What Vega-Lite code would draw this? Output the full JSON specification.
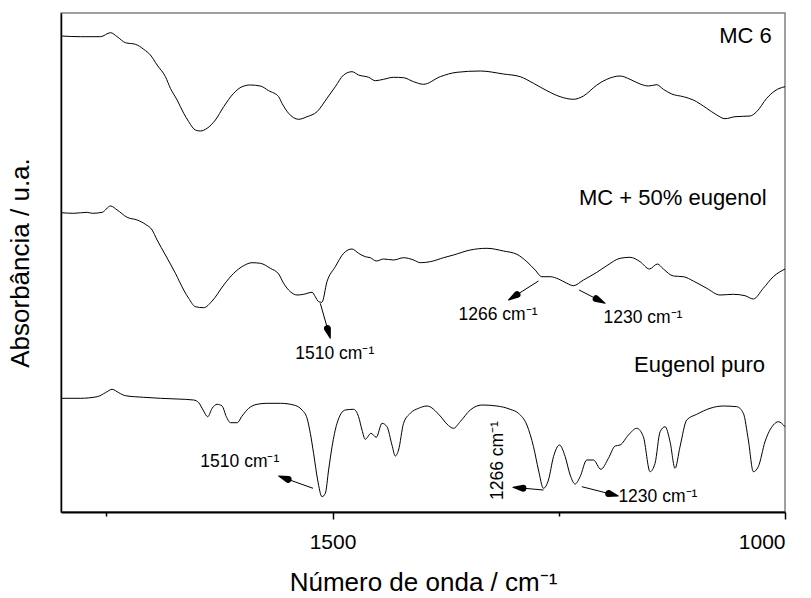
{
  "$schema": "https://vega.github.io/schema/vega-lite/v6.json",
  "width": 724,
  "height": 499,
  "autosize": {"type": "none"},
  "padding": {"left": 61, "top": 13, "right": 26, "bottom": 86},
  "background": "white",
  "config": {
    "font": "Liberation Sans",
    "view": {"stroke": "#808080", "strokeWidth": 1.5}
  },
  "datasets": {
    "spectra": [
      {"s": "MC 6", "wn": 1800, "a": 476}, {"s": "MC 6", "wn": 1778.5, "a": 475.3}, {"s": "MC 6", "wn": 1756.4, "a": 475.3},
      {"s": "MC 6", "wn": 1745.3, "a": 479.3}, {"s": "MC 6", "wn": 1737.9, "a": 475.3}, {"s": "MC 6", "wn": 1728.8, "a": 469.3},
      {"s": "MC 6", "wn": 1717.7, "a": 467.7}, {"s": "MC 6", "wn": 1708.6, "a": 462.7}, {"s": "MC 6", "wn": 1701.2, "a": 457},
      {"s": "MC 6", "wn": 1693.8, "a": 447}, {"s": "MC 6", "wn": 1684.6, "a": 435.3}, {"s": "MC 6", "wn": 1679.1, "a": 423.7},
      {"s": "MC 6", "wn": 1671.7, "a": 412}, {"s": "MC 6", "wn": 1664.4, "a": 398.7}, {"s": "MC 6", "wn": 1658.9, "a": 390.3},
      {"s": "MC 6", "wn": 1651.5, "a": 382}, {"s": "MC 6", "wn": 1646.0, "a": 381}, {"s": "MC 6", "wn": 1638.6, "a": 383.7},
      {"s": "MC 6", "wn": 1629.4, "a": 392}, {"s": "MC 6", "wn": 1620.2, "a": 405.3}, {"s": "MC 6", "wn": 1609.2, "a": 418.7},
      {"s": "MC 6", "wn": 1599.9, "a": 425.3}, {"s": "MC 6", "wn": 1590.8, "a": 427}, {"s": "MC 6", "wn": 1579.7, "a": 426},
      {"s": "MC 6", "wn": 1570.5, "a": 421.3}, {"s": "MC 6", "wn": 1559.5, "a": 415.3}, {"s": "MC 6", "wn": 1555.8, "a": 408.7},
      {"s": "MC 6", "wn": 1548.5, "a": 398.7}, {"s": "MC 6", "wn": 1537.4, "a": 392.7}, {"s": "MC 6", "wn": 1528.1, "a": 395.3},
      {"s": "MC 6", "wn": 1517.1, "a": 400.3}, {"s": "MC 6", "wn": 1506.1, "a": 413.7}, {"s": "MC 6", "wn": 1496.9, "a": 425.3},
      {"s": "MC 6", "wn": 1487.7, "a": 437}, {"s": "MC 6", "wn": 1478.5, "a": 440.3}, {"s": "MC 6", "wn": 1471.2, "a": 437},
      {"s": "MC 6", "wn": 1460.1, "a": 434.7}, {"s": "MC 6", "wn": 1452.7, "a": 431.3}, {"s": "MC 6", "wn": 1443.6, "a": 432.7},
      {"s": "MC 6", "wn": 1432.5, "a": 434.7}, {"s": "MC 6", "wn": 1421.5, "a": 434.3}, {"s": "MC 6", "wn": 1410.4, "a": 430.3},
      {"s": "MC 6", "wn": 1399.4, "a": 427.7}, {"s": "MC 6", "wn": 1381.0, "a": 435.3}, {"s": "MC 6", "wn": 1362.5, "a": 439.7},
      {"s": "MC 6", "wn": 1336.8, "a": 441}, {"s": "MC 6", "wn": 1311.1, "a": 438}, {"s": "MC 6", "wn": 1292.6, "a": 435.3},
      {"s": "MC 6", "wn": 1277.9, "a": 428.7}, {"s": "MC 6", "wn": 1263.1, "a": 421.3}, {"s": "MC 6", "wn": 1248.4, "a": 415.3},
      {"s": "MC 6", "wn": 1233.8, "a": 412.7}, {"s": "MC 6", "wn": 1222.7, "a": 416}, {"s": "MC 6", "wn": 1207.9, "a": 427},
      {"s": "MC 6", "wn": 1196.9, "a": 432.7}, {"s": "MC 6", "wn": 1182.2, "a": 436}, {"s": "MC 6", "wn": 1171.2, "a": 432.7},
      {"s": "MC 6", "wn": 1160.1, "a": 428}, {"s": "MC 6", "wn": 1151.0, "a": 426}, {"s": "MC 6", "wn": 1141.7, "a": 427.3},
      {"s": "MC 6", "wn": 1134.4, "a": 422.7}, {"s": "MC 6", "wn": 1125.1, "a": 418}, {"s": "MC 6", "wn": 1112.3, "a": 415.3},
      {"s": "MC 6", "wn": 1101.3, "a": 412}, {"s": "MC 6", "wn": 1086.5, "a": 403.7}, {"s": "MC 6", "wn": 1075.4, "a": 397},
      {"s": "MC 6", "wn": 1066.3, "a": 393.3}, {"s": "MC 6", "wn": 1055.2, "a": 395.3}, {"s": "MC 6", "wn": 1038.6, "a": 396},
      {"s": "MC 6", "wn": 1031.3, "a": 400.3}, {"s": "MC 6", "wn": 1020.2, "a": 413.7}, {"s": "MC 6", "wn": 1011.0, "a": 421.3},
      {"s": "MC 6", "wn": 1000, "a": 425.3},

      {"s": "MC + 50% eugenol", "wn": 1800, "a": 299.3}, {"s": "MC + 50% eugenol", "wn": 1785.9, "a": 298.7}, {"s": "MC + 50% eugenol", "wn": 1771.1, "a": 299.7},
      {"s": "MC + 50% eugenol", "wn": 1765.5, "a": 298.7}, {"s": "MC + 50% eugenol", "wn": 1754.5, "a": 299.7}, {"s": "MC + 50% eugenol", "wn": 1745.3, "a": 306},
      {"s": "MC + 50% eugenol", "wn": 1737.9, "a": 302}, {"s": "MC + 50% eugenol", "wn": 1726.9, "a": 294.7}, {"s": "MC + 50% eugenol", "wn": 1715.9, "a": 292},
      {"s": "MC + 50% eugenol", "wn": 1706.7, "a": 287.7}, {"s": "MC + 50% eugenol", "wn": 1699.3, "a": 282}, {"s": "MC + 50% eugenol", "wn": 1693.8, "a": 272},
      {"s": "MC + 50% eugenol", "wn": 1684.6, "a": 257}, {"s": "MC + 50% eugenol", "wn": 1673.6, "a": 238.7}, {"s": "MC + 50% eugenol", "wn": 1664.4, "a": 222},
      {"s": "MC + 50% eugenol", "wn": 1658.9, "a": 213.7}, {"s": "MC + 50% eugenol", "wn": 1651.5, "a": 205.3}, {"s": "MC + 50% eugenol", "wn": 1642.3, "a": 204.3},
      {"s": "MC + 50% eugenol", "wn": 1633.0, "a": 211}, {"s": "MC + 50% eugenol", "wn": 1620.2, "a": 227}, {"s": "MC + 50% eugenol", "wn": 1609.2, "a": 238.7},
      {"s": "MC + 50% eugenol", "wn": 1598.2, "a": 246.3}, {"s": "MC + 50% eugenol", "wn": 1588.9, "a": 249.3}, {"s": "MC + 50% eugenol", "wn": 1579.7, "a": 248.7},
      {"s": "MC + 50% eugenol", "wn": 1568.7, "a": 243.7}, {"s": "MC + 50% eugenol", "wn": 1559.5, "a": 238}, {"s": "MC + 50% eugenol", "wn": 1554.0, "a": 228.7},
      {"s": "MC + 50% eugenol", "wn": 1546.6, "a": 220.3}, {"s": "MC + 50% eugenol", "wn": 1539.2, "a": 217}, {"s": "MC + 50% eugenol", "wn": 1531.9, "a": 217.7},
      {"s": "MC + 50% eugenol", "wn": 1522.6, "a": 219.7}, {"s": "MC + 50% eugenol", "wn": 1519.0, "a": 215.3}, {"s": "MC + 50% eugenol", "wn": 1515.3, "a": 210.3},
      {"s": "MC + 50% eugenol", "wn": 1511.8, "a": 209.7}, {"s": "MC + 50% eugenol", "wn": 1506.1, "a": 230.3}, {"s": "MC + 50% eugenol", "wn": 1496.9, "a": 245.3},
      {"s": "MC + 50% eugenol", "wn": 1487.7, "a": 258.7}, {"s": "MC + 50% eugenol", "wn": 1478.5, "a": 263}, {"s": "MC + 50% eugenol", "wn": 1471.2, "a": 258.7},
      {"s": "MC + 50% eugenol", "wn": 1463.8, "a": 255.3}, {"s": "MC + 50% eugenol", "wn": 1458.3, "a": 254.3}, {"s": "MC + 50% eugenol", "wn": 1451.6, "a": 251},
      {"s": "MC + 50% eugenol", "wn": 1443.6, "a": 253}, {"s": "MC + 50% eugenol", "wn": 1432.5, "a": 252}, {"s": "MC + 50% eugenol", "wn": 1421.5, "a": 254.3},
      {"s": "MC + 50% eugenol", "wn": 1410.4, "a": 252}, {"s": "MC + 50% eugenol", "wn": 1403.0, "a": 249.3}, {"s": "MC + 50% eugenol", "wn": 1392.0, "a": 250.3},
      {"s": "MC + 50% eugenol", "wn": 1377.3, "a": 254.3}, {"s": "MC + 50% eugenol", "wn": 1366.3, "a": 257}, {"s": "MC + 50% eugenol", "wn": 1347.8, "a": 262},
      {"s": "MC + 50% eugenol", "wn": 1329.4, "a": 263.7}, {"s": "MC + 50% eugenol", "wn": 1311.1, "a": 261}, {"s": "MC + 50% eugenol", "wn": 1296.3, "a": 257.7},
      {"s": "MC + 50% eugenol", "wn": 1285.2, "a": 250.3}, {"s": "MC + 50% eugenol", "wn": 1276.1, "a": 242}, {"s": "MC + 50% eugenol", "wn": 1268.7, "a": 235.3},
      {"s": "MC + 50% eugenol", "wn": 1259.5, "a": 235.3}, {"s": "MC + 50% eugenol", "wn": 1250.3, "a": 233}, {"s": "MC + 50% eugenol", "wn": 1241.0, "a": 228.7},
      {"s": "MC + 50% eugenol", "wn": 1233.8, "a": 226.3}, {"s": "MC + 50% eugenol", "wn": 1222.7, "a": 232}, {"s": "MC + 50% eugenol", "wn": 1207.9, "a": 239.7},
      {"s": "MC + 50% eugenol", "wn": 1196.9, "a": 246.3}, {"s": "MC + 50% eugenol", "wn": 1182.2, "a": 253.7}, {"s": "MC + 50% eugenol", "wn": 1171.2, "a": 254.7},
      {"s": "MC + 50% eugenol", "wn": 1160.1, "a": 250.3}, {"s": "MC + 50% eugenol", "wn": 1149.8, "a": 243}, {"s": "MC + 50% eugenol", "wn": 1141.0, "a": 248},
      {"s": "MC + 50% eugenol", "wn": 1134.4, "a": 243}, {"s": "MC + 50% eugenol", "wn": 1123.3, "a": 236}, {"s": "MC + 50% eugenol", "wn": 1112.3, "a": 235.3},
      {"s": "MC + 50% eugenol", "wn": 1101.3, "a": 231}, {"s": "MC + 50% eugenol", "wn": 1086.5, "a": 223.7}, {"s": "MC + 50% eugenol", "wn": 1071.8, "a": 217},
      {"s": "MC + 50% eugenol", "wn": 1057.1, "a": 217.7}, {"s": "MC + 50% eugenol", "wn": 1044.2, "a": 216.3}, {"s": "MC + 50% eugenol", "wn": 1035.0, "a": 213},
      {"s": "MC + 50% eugenol", "wn": 1024.0, "a": 223.7}, {"s": "MC + 50% eugenol", "wn": 1012.9, "a": 235.3}, {"s": "MC + 50% eugenol", "wn": 1000, "a": 243},

      {"s": "Eugenol puro", "wn": 1800, "a": 113.7}, {"s": "Eugenol puro", "wn": 1778.5, "a": 113.7}, {"s": "Eugenol puro", "wn": 1760.0, "a": 115.3},
      {"s": "Eugenol puro", "wn": 1750.9, "a": 119.3}, {"s": "Eugenol puro", "wn": 1743.5, "a": 122.7}, {"s": "Eugenol puro", "wn": 1736.2, "a": 119.3},
      {"s": "Eugenol puro", "wn": 1728.8, "a": 116.3}, {"s": "Eugenol puro", "wn": 1708.6, "a": 114.7}, {"s": "Eugenol puro", "wn": 1690.1, "a": 113.7},
      {"s": "Eugenol puro", "wn": 1671.7, "a": 113}, {"s": "Eugenol puro", "wn": 1653.4, "a": 112}, {"s": "Eugenol puro", "wn": 1647.8, "a": 109.3},
      {"s": "Eugenol puro", "wn": 1643.0, "a": 102}, {"s": "Eugenol puro", "wn": 1637.9, "a": 95.3}, {"s": "Eugenol puro", "wn": 1633.0, "a": 103.7},
      {"s": "Eugenol puro", "wn": 1627.5, "a": 107.7}, {"s": "Eugenol puro", "wn": 1622.0, "a": 106}, {"s": "Eugenol puro", "wn": 1617.3, "a": 95.3},
      {"s": "Eugenol puro", "wn": 1612.8, "a": 89.3}, {"s": "Eugenol puro", "wn": 1605.4, "a": 89.3}, {"s": "Eugenol puro", "wn": 1599.9, "a": 96},
      {"s": "Eugenol puro", "wn": 1592.6, "a": 103.7}, {"s": "Eugenol puro", "wn": 1583.4, "a": 107.7}, {"s": "Eugenol puro", "wn": 1572.3, "a": 108.7},
      {"s": "Eugenol puro", "wn": 1557.6, "a": 108.7}, {"s": "Eugenol puro", "wn": 1542.9, "a": 107}, {"s": "Eugenol puro", "wn": 1533.7, "a": 102},
      {"s": "Eugenol puro", "wn": 1528.1, "a": 93.7}, {"s": "Eugenol puro", "wn": 1524.5, "a": 78.7}, {"s": "Eugenol puro", "wn": 1520.9, "a": 58.7},
      {"s": "Eugenol puro", "wn": 1516.4, "a": 32}, {"s": "Eugenol puro", "wn": 1511.6, "a": 15.3}, {"s": "Eugenol puro", "wn": 1507.9, "a": 18.7},
      {"s": "Eugenol puro", "wn": 1504.3, "a": 42}, {"s": "Eugenol puro", "wn": 1500.5, "a": 65.3}, {"s": "Eugenol puro", "wn": 1495.0, "a": 88.7},
      {"s": "Eugenol puro", "wn": 1485.9, "a": 102}, {"s": "Eugenol puro", "wn": 1476.7, "a": 102.7}, {"s": "Eugenol puro", "wn": 1471.2, "a": 95.3},
      {"s": "Eugenol puro", "wn": 1467.4, "a": 82}, {"s": "Eugenol puro", "wn": 1463.8, "a": 72.7}, {"s": "Eugenol puro", "wn": 1457.5, "a": 78.7},
      {"s": "Eugenol puro", "wn": 1451.6, "a": 74.7}, {"s": "Eugenol puro", "wn": 1445.3, "a": 88.7}, {"s": "Eugenol puro", "wn": 1439.8, "a": 85.3},
      {"s": "Eugenol puro", "wn": 1434.3, "a": 67}, {"s": "Eugenol puro", "wn": 1430.6, "a": 56}, {"s": "Eugenol puro", "wn": 1427.0, "a": 62},
      {"s": "Eugenol puro", "wn": 1421.5, "a": 88.7}, {"s": "Eugenol puro", "wn": 1414.1, "a": 98.7}, {"s": "Eugenol puro", "wn": 1404.9, "a": 103.7},
      {"s": "Eugenol puro", "wn": 1395.6, "a": 106}, {"s": "Eugenol puro", "wn": 1381.0, "a": 96}, {"s": "Eugenol puro", "wn": 1373.6, "a": 88},
      {"s": "Eugenol puro", "wn": 1366.3, "a": 83.7}, {"s": "Eugenol puro", "wn": 1358.9, "a": 90.3}, {"s": "Eugenol puro", "wn": 1347.8, "a": 102},
      {"s": "Eugenol puro", "wn": 1334.9, "a": 107}, {"s": "Eugenol puro", "wn": 1318.3, "a": 106}, {"s": "Eugenol puro", "wn": 1303.7, "a": 102.7},
      {"s": "Eugenol puro", "wn": 1294.5, "a": 98.7}, {"s": "Eugenol puro", "wn": 1285.2, "a": 87}, {"s": "Eugenol puro", "wn": 1277.9, "a": 65.3},
      {"s": "Eugenol puro", "wn": 1272.4, "a": 42}, {"s": "Eugenol puro", "wn": 1266.9, "a": 23.7}, {"s": "Eugenol puro", "wn": 1261.4, "a": 32},
      {"s": "Eugenol puro", "wn": 1255.8, "a": 55.3}, {"s": "Eugenol puro", "wn": 1249.2, "a": 67}, {"s": "Eugenol puro", "wn": 1242.9, "a": 55.3},
      {"s": "Eugenol puro", "wn": 1237.4, "a": 37}, {"s": "Eugenol puro", "wn": 1231.9, "a": 28}, {"s": "Eugenol puro", "wn": 1226.4, "a": 35.3},
      {"s": "Eugenol puro", "wn": 1219.0, "a": 52}, {"s": "Eugenol puro", "wn": 1211.7, "a": 52}, {"s": "Eugenol puro", "wn": 1203.5, "a": 42.7},
      {"s": "Eugenol puro", "wn": 1195.1, "a": 53.7}, {"s": "Eugenol puro", "wn": 1187.7, "a": 66}, {"s": "Eugenol puro", "wn": 1182.2, "a": 67},
      {"s": "Eugenol puro", "wn": 1173.0, "a": 77}, {"s": "Eugenol puro", "wn": 1163.8, "a": 83.7}, {"s": "Eugenol puro", "wn": 1156.5, "a": 75.3},
      {"s": "Eugenol puro", "wn": 1149.1, "a": 40.3}, {"s": "Eugenol puro", "wn": 1143.6, "a": 48.7}, {"s": "Eugenol puro", "wn": 1138.0, "a": 80.3},
      {"s": "Eugenol puro", "wn": 1132.5, "a": 85.3}, {"s": "Eugenol puro", "wn": 1127.0, "a": 70.3}, {"s": "Eugenol puro", "wn": 1121.5, "a": 43.7},
      {"s": "Eugenol puro", "wn": 1116.0, "a": 65.3}, {"s": "Eugenol puro", "wn": 1108.6, "a": 92}, {"s": "Eugenol puro", "wn": 1097.5, "a": 97.7},
      {"s": "Eugenol puro", "wn": 1082.8, "a": 103.7}, {"s": "Eugenol puro", "wn": 1068.1, "a": 106}, {"s": "Eugenol puro", "wn": 1053.3, "a": 105.3},
      {"s": "Eugenol puro", "wn": 1046.0, "a": 98.7}, {"s": "Eugenol puro", "wn": 1040.5, "a": 72}, {"s": "Eugenol puro", "wn": 1035.0, "a": 40.3},
      {"s": "Eugenol puro", "wn": 1029.5, "a": 45.3}, {"s": "Eugenol puro", "wn": 1022.1, "a": 70.3}, {"s": "Eugenol puro", "wn": 1012.9, "a": 87},
      {"s": "Eugenol puro", "wn": 1007.4, "a": 90.3}, {"s": "Eugenol puro", "wn": 1000, "a": 85.3}
    ],
    "shafts": [
      {"id": "a1", "wn": 1513.5, "a": 208.7, "wn2": 1505.5, "a2": 183.3},
      {"id": "a2", "wn": 1521.5, "a": 23.7, "wn2": 1549.1, "a2": 32.6},
      {"id": "a3", "wn": 1272.4, "a": 231, "wn2": 1296.2, "a2": 217.35},
      {"id": "a4", "wn": 1227.5, "a": 222, "wn2": 1208.6, "a2": 213.25},
      {"id": "a5", "wn": 1266.9, "a": 22, "wn2": 1289.6, "a2": 23.8},
      {"id": "a6", "wn": 1224.5, "a": 25.3, "wn2": 1194.8, "a2": 18.5}
    ],
    "heads": [
      {"id": "a1", "end": "base", "wn": 1505.5, "a": 183.3}, {"id": "a1", "end": "tip", "wn": 1502.4, "a": 173.7},
      {"id": "a2", "end": "base", "wn": 1549.1, "a": 32.6}, {"id": "a2", "end": "tip", "wn": 1559.5, "a": 36},
      {"id": "a3", "end": "base", "wn": 1296.2, "a": 217.35}, {"id": "a3", "end": "tip", "wn": 1305.5, "a": 212},
      {"id": "a4", "end": "base", "wn": 1208.6, "a": 213.25}, {"id": "a4", "end": "tip", "wn": 1198.8, "a": 208.7},
      {"id": "a5", "end": "base", "wn": 1289.6, "a": 23.8}, {"id": "a5", "end": "tip", "wn": 1300.7, "a": 24.7},
      {"id": "a6", "end": "base", "wn": 1194.8, "a": 18.5}, {"id": "a6", "end": "tip", "wn": 1184.1, "a": 16}
    ],
    "bands": [
      {"text": "1510 cm⁻¹", "wn": 1541.1, "a": 153},
      {"text": "1510 cm⁻¹", "wn": 1646.0, "a": 45.5},
      {"text": "1266 cm⁻¹", "wn": 1360.7, "a": 192},
      {"text": "1230 cm⁻¹", "wn": 1200.6, "a": 189.5},
      {"text": "1230 cm⁻¹", "wn": 1184.1, "a": 10.3}
    ],
    "bandsVertical": [
      {"text": "1266 cm⁻¹", "wn": 1311.4, "a": 12}
    ],
    "names": [
      {"text": "MC 6", "wn": 1014.7, "a": 469.3},
      {"text": "MC + 50% eugenol", "wn": 1020.2, "a": 307},
      {"text": "Eugenol puro", "wn": 1022.1, "a": 140.3}
    ]
  },
  "layer": [
    {
      "data": {"name": "spectra"},
      "mark": {"type": "line", "interpolate": "monotone", "color": "black", "strokeWidth": 1},
      "encoding": {
        "x": {
          "field": "wn", "type": "quantitative",
          "scale": {"domain": [1000, 1800], "reverse": true, "nice": false, "zero": false},
          "axis": {
            "title": "Número de onda / cm⁻¹",
            "values": [1750, 1500, 1250, 1000],
            "format": "d",
            "labelExpr": "datum.value % 500 === 0 ? datum.label : ''",
            "grid": false,
            "domainColor": "black", "domainWidth": 2,
            "tickColor": "black", "tickWidth": 1.5,
            "tickSize": {"condition": {"test": "datum.value % 500 === 0", "value": 7}, "value": 4},
            "labelFontSize": 21, "labelColor": "black", "labelPadding": 12,
            "titleFontSize": 26, "titleFontWeight": "normal", "titleColor": "black", "titlePadding": 17
          }
        },
        "y": {
          "field": "a", "type": "quantitative",
          "scale": {"domain": [0, 499], "nice": false, "zero": false},
          "axis": {
            "title": "Absorbância / u.a.",
            "ticks": false, "labels": false, "grid": false,
            "domainColor": "black", "domainWidth": 1.5,
            "titleFontSize": 26, "titleFontWeight": "normal", "titleColor": "black", "titlePadding": 28
          }
        },
        "detail": {"field": "s", "type": "nominal"},
        "order": {"field": "wn", "sort": "descending"}
      }
    },
    {
      "data": {"name": "shafts"},
      "mark": {"type": "rule", "color": "black", "strokeWidth": 1},
      "encoding": {
        "x": {"field": "wn", "type": "quantitative"},
        "y": {"field": "a", "type": "quantitative"},
        "x2": {"field": "wn2"},
        "y2": {"field": "a2"}
      }
    },
    {
      "data": {"name": "heads"},
      "mark": {"type": "trail", "color": "black"},
      "encoding": {
        "x": {"field": "wn", "type": "quantitative"},
        "y": {"field": "a", "type": "quantitative"},
        "detail": {"field": "id", "type": "nominal"},
        "size": {"field": "end", "type": "ordinal", "scale": {"domain": ["base", "tip"], "range": [7, 0]}, "legend": null}
      }
    },
    {
      "data": {"name": "bands"},
      "mark": {"type": "text", "align": "left", "baseline": "alphabetic", "fontSize": 17.5, "color": "black"},
      "encoding": {
        "x": {"field": "wn", "type": "quantitative"},
        "y": {"field": "a", "type": "quantitative"},
        "text": {"field": "text"}
      }
    },
    {
      "data": {"name": "bandsVertical"},
      "mark": {"type": "text", "align": "left", "baseline": "alphabetic", "fontSize": 17.5, "angle": 270, "color": "black"},
      "encoding": {
        "x": {"field": "wn", "type": "quantitative"},
        "y": {"field": "a", "type": "quantitative"},
        "text": {"field": "text"}
      }
    },
    {
      "data": {"name": "names"},
      "mark": {"type": "text", "align": "right", "baseline": "alphabetic", "fontSize": 22, "color": "black"},
      "encoding": {
        "x": {"field": "wn", "type": "quantitative"},
        "y": {"field": "a", "type": "quantitative"},
        "text": {"field": "text"}
      }
    }
  ]
}
